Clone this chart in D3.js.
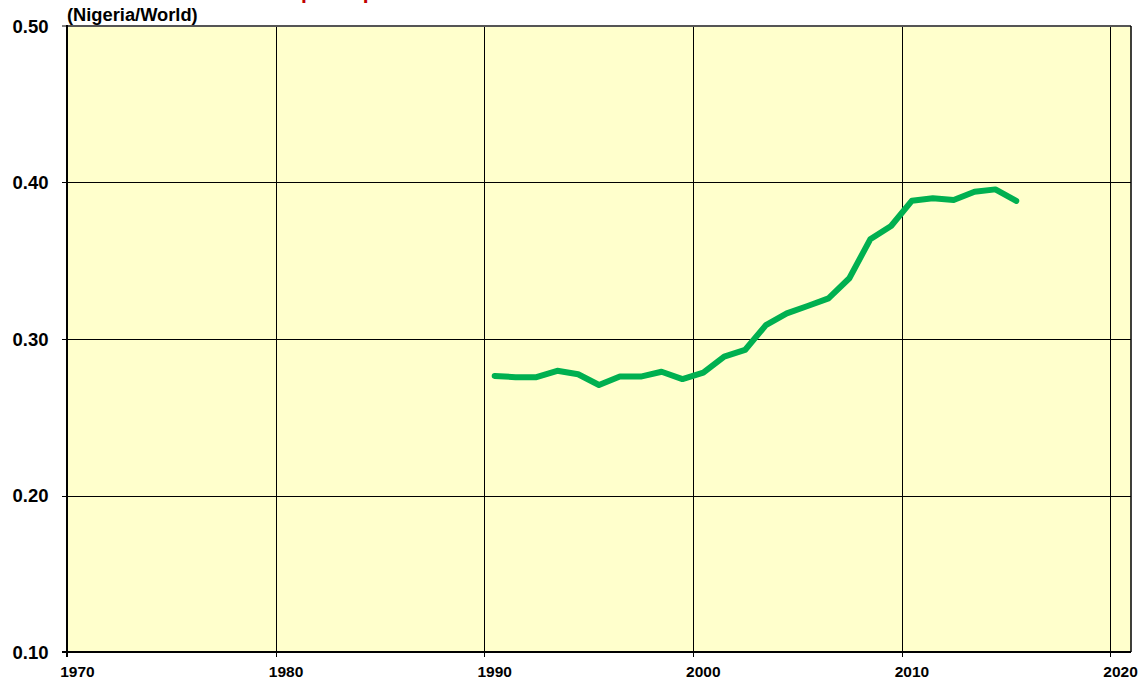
<!DOCTYPE html>
<html lang="en">
<head>
  <meta charset="UTF-8" />
  <title>Nigeria/World</title>
  <style>
    body { margin: 0; background: #fff; }
    svg { display: block; }
    text { font-family: "Liberation Sans", Arial, sans-serif; font-weight: bold; }
  </style>
</head>
<body>
  <svg id="chart" width="1146" height="686"></svg>

  <script src="https://d3js.org/d3.v7.min.js"></script>
  <script>
    // ratio Nigeria / World, one value per year (plotted at mid-year)
    const years = [1990, 1991, 1992, 1993, 1994, 1995, 1996, 1997, 1998, 1999,
                   2000, 2001, 2002, 2003, 2004, 2005, 2006, 2007, 2008, 2009,
                   2010, 2011, 2012, 2013, 2014, 2015];
    const ratio = [0.2764, 0.2756, 0.2756, 0.2797, 0.2775, 0.2706, 0.2760, 0.2760, 0.2791, 0.2744,
                   0.2785, 0.2887, 0.2930, 0.3089, 0.3164, 0.3211, 0.3260, 0.3388, 0.3637, 0.3722,
                   0.3884, 0.3899, 0.3888, 0.3941, 0.3956, 0.3882];
    const xTicks = [1970, 1980, 1990, 2000, 2010, 2020];
    const yTicks = [0.10, 0.20, 0.30, 0.40, 0.50];
    const unitLabel = "(Nigeria/World)";

    const svg = d3.select("#chart");
    const pL = 67, pR = 1131, pT = 26, pB = 652;

    const x = d3.scaleLinear().domain([1970, 2021]).range([pL, pR]);
    const y = d3.scaleLinear().domain([0.10, 0.50]).range([pB, pT]);

    // title sits above the picture; only the descenders show
    svg.append("text")
      .attr("x", 301).attr("y", -1.5)
      .attr("fill", "#c00000")
      .style("font-size", "21px")
      .text("per capita");

    svg.append("rect")
      .attr("x", pL).attr("y", pT)
      .attr("width", pR - pL).attr("height", pB - pT)
      .attr("fill", "#ffffcc");

    const grid = svg.append("g");
    grid.selectAll("line.v")
      .data(xTicks.filter(d => d > 1970))
      .join("line")
      .attr("x1", d => Math.round(x(d)) + 0.5).attr("x2", d => Math.round(x(d)) + 0.5)
      .attr("y1", pT).attr("y2", pB + 5)
      .attr("stroke", "#000").attr("stroke-width", 1);
    grid.selectAll("line.h")
      .data(yTicks.filter(d => d > 0.1 && d < 0.5))
      .join("line")
      .attr("x1", pL - 5).attr("x2", pR)
      .attr("y1", d => Math.round(y(d)) + 0.5).attr("y2", d => Math.round(y(d)) + 0.5)
      .attr("stroke", "#000").attr("stroke-width", 1);

    // frame
    svg.append("line").attr("x1", pL).attr("x2", pR).attr("y1", pT).attr("y2", pT)
      .attr("stroke", "#555").attr("stroke-width", 2);
    svg.append("line").attr("x1", pR).attr("x2", pR).attr("y1", pT).attr("y2", pB)
      .attr("stroke", "#000").attr("stroke-width", 1.5);
    svg.append("line").attr("x1", pL).attr("x2", pL).attr("y1", pT - 1).attr("y2", pB + 5)
      .attr("stroke", "#000").attr("stroke-width", 2);
    svg.append("line").attr("x1", pL - 5).attr("x2", pR).attr("y1", pB).attr("y2", pB)
      .attr("stroke", "#000").attr("stroke-width", 2);
    svg.append("line").attr("x1", pL - 5).attr("x2", pL).attr("y1", pT).attr("y2", pT)
      .attr("stroke", "#000").attr("stroke-width", 1);

    // y labels
    svg.append("g").selectAll("text")
      .data(yTicks)
      .join("text")
      .attr("x", 48.5)
      .attr("y", d => y(d) + 6.5)
      .attr("text-anchor", "end")
      .style("font-size", "18.5px")
      .attr("fill", "#000")
      .text(d => d.toFixed(2));

    // x labels (centred at mid-year)
    svg.append("g").selectAll("text")
      .data(xTicks)
      .join("text")
      .attr("x", d => x(d + 0.5))
      .attr("y", 677)
      .attr("text-anchor", "middle")
      .style("font-size", "15.5px")
      .attr("fill", "#000")
      .text(d => d);

    svg.append("text")
      .attr("x", pL).attr("y", 21)
      .style("font-size", "18.3px")
      .attr("fill", "#000")
      .text(unitLabel);

    const line = d3.line()
      .x((d, i) => x(years[i] + 0.5))
      .y(d => y(d));

    svg.append("path")
      .datum(ratio)
      .attr("d", line)
      .attr("fill", "none")
      .attr("stroke", "#00b050")
      .attr("stroke-width", 6)
      .attr("stroke-linejoin", "round")
      .attr("stroke-linecap", "round");
  </script>
</body>
</html>
